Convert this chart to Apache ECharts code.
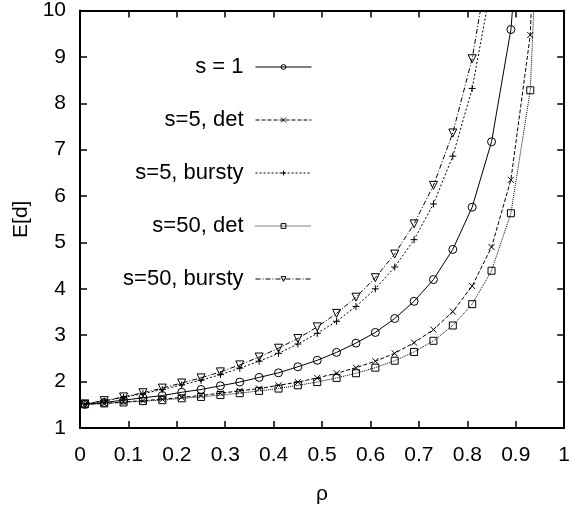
<!DOCTYPE html>
<html>
<head>
<meta charset="utf-8">
<script src="https://cdn.jsdelivr.net/npm/echarts@6/dist/echarts.min.js"></script>
<style>html,body{margin:0;padding:0;background:#fff}#c{width:573px;height:510px}</style>
</head>
<body>
<div id="c"></div>
<script>
var rho = [0.01,0.05,0.09,0.13,0.17,0.21,0.25,0.29,0.33,0.37,0.41,0.45,0.49,0.53,0.57,0.61,0.65,0.69,0.73,0.77,0.81,0.85,0.89,0.93,0.97];
var s1 = [1.51,1.55,1.60,1.65,1.70,1.77,1.83,1.91,1.99,2.09,2.19,2.32,2.46,2.63,2.83,3.06,3.36,3.73,4.20,4.85,5.76,7.17,9.59,14.79,33.83];
var s5det = [1.51,1.53,1.56,1.59,1.62,1.66,1.70,1.75,1.80,1.85,1.92,1.99,2.08,2.18,2.30,2.44,2.61,2.84,3.12,3.51,4.06,4.90,6.35,9.47,20.9];
var s5bursty = [1.52,1.58,1.66,1.74,1.83,1.93,2.03,2.15,2.29,2.44,2.61,2.81,3.04,3.30,3.62,4.00,4.47,5.06,5.83,6.86,8.32,10.57,14.45,22.76];
var s50det = [1.51,1.53,1.55,1.58,1.60,1.64,1.67,1.71,1.75,1.80,1.85,1.92,1.99,2.08,2.18,2.30,2.45,2.64,2.88,3.21,3.67,4.39,5.63,8.28,17.99];
var s50bursty = [1.52,1.59,1.67,1.76,1.86,1.97,2.08,2.21,2.36,2.53,2.72,2.93,3.18,3.47,3.82,4.24,4.75,5.40,6.23,7.36,8.96,11.42,15.66];
var names = ['s = 1','s=5, det','s=5, bursty','s=50, det','s=50, bursty'];

function pairs(v){ return v.map(function(y,i){ return [rho[i], y]; }); }
var FONT = "'Liberation Sans', Arial, Helvetica, sans-serif";
function mk(name, data, symbol, size, dash, rot){
  return {
    name: name, type: 'line', data: pairs(data), clip: true,
    symbol: symbol, symbolSize: size, symbolRotate: rot || 0, showAllSymbol: true,
    lineStyle: {color: '#000', width: 1, type: dash},
    itemStyle: {color: 'none', borderColor: '#000', borderWidth: 1},
    emphasis: {disabled: true}, animation: false
  };
}
var tick = {show: true, inside: true, length: 7, lineStyle: {color: '#000', width: 1.5}};
var line = {show: true, onZero: false, lineStyle: {color: '#000', width: 2}};
var chart = echarts.init(document.getElementById('c'));
chart.setOption({
  animation: false,
  grid: {left: 80, right: 6, top: 10, bottom: 82, containLabel: false},
  legend: {
    orient: 'vertical', right: 256, top: 51, align: 'right',
    itemWidth: 56, itemHeight: 6, itemGap: 31,
    itemStyle: {color: 'none', borderColor: '#000', borderWidth: 1},
    lineStyle: {width: 1},
    textStyle: {fontFamily: FONT, fontSize: 22, color: '#000', padding: [0, 7, 0, 0]},
    data: names
  },
  xAxis: [{
    type: 'value', min: 0, max: 1, interval: 0.1, position: 'bottom',
    axisLine: line, axisTick: tick, splitLine: {show: false},
    axisLabel: {fontFamily: FONT, fontSize: 21, color: '#000', margin: 17},
    name: 'ρ', nameLocation: 'middle', nameGap: 56,
    nameTextStyle: {fontFamily: FONT, fontSize: 21, color: '#000'}
  }, {
    type: 'value', min: 0, max: 1, interval: 0.1, position: 'top',
    axisLine: line, axisTick: tick, splitLine: {show: false}, axisLabel: {show: false}
  }],
  yAxis: [{
    type: 'value', min: 1, max: 10, interval: 1, position: 'left',
    axisLine: line, axisTick: tick, splitLine: {show: false},
    axisLabel: {fontFamily: FONT, fontSize: 21, color: '#000', margin: 14},
    name: 'E[d]', nameLocation: 'middle', nameGap: 48, nameRotate: 90,
    nameTextStyle: {fontFamily: FONT, fontSize: 21, color: '#000'}
  }, {
    type: 'value', min: 1, max: 10, interval: 1, position: 'right',
    axisLine: line, axisTick: tick, splitLine: {show: false}, axisLabel: {show: false}
  }],
  series: [
    mk(names[0], s1, 'circle', 8, 'solid'),
    mk(names[1], s5det, 'path://M0,0L10,10M0,10L10,0', 6, [4, 2]),
    mk(names[2], s5bursty, 'path://M5,0L5,10M0,5L10,5', 7, [2, 2]),
    mk(names[3], s50det, 'rect', 7, [1, 1]),
    mk(names[4], s50bursty, 'triangle', 8, [5, 2, 1, 2], 180)
  ]
});
</script>
</body>
</html>
